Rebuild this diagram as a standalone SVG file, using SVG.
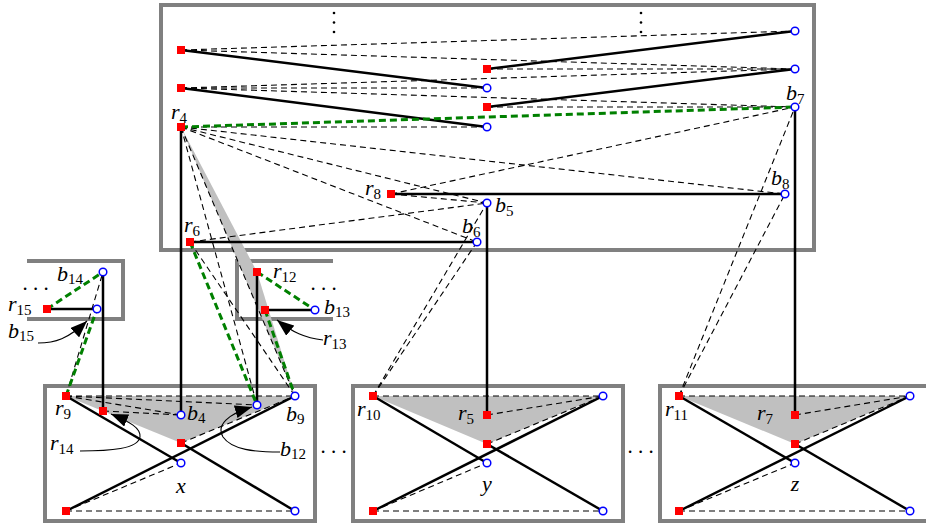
<svg xmlns="http://www.w3.org/2000/svg" width="926" height="525" viewBox="0 0 926 525">
<style>
.box{fill:none;stroke:#808080;stroke-width:4}
.sh{fill:#c0c0c0;stroke:none}
.s{stroke:#000;stroke-width:2.5;fill:none}
.d{stroke:#000;stroke-width:1.1;stroke-dasharray:6 4;fill:none}
.g{stroke:#008000;stroke-width:3;stroke-dasharray:7 4;fill:none}
.ar{stroke:#000;stroke-width:1.1;fill:none;marker-end:url(#ah)}
.rn{fill:#ff0000}
.bn{fill:#fff;stroke:#0000ff;stroke-width:1.5}
.dot{fill:#000}
.lbl{font-family:"Liberation Serif",serif;font-style:italic;font-size:22px;fill:#000}
.sub{font-style:normal;font-size:15px}
.el{font-family:"Liberation Serif",serif;font-size:21px;fill:#000}
</style>
<defs>
<marker id="ah" markerUnits="userSpaceOnUse" markerWidth="18" markerHeight="13" refX="17" refY="6.5" orient="auto">
<path d="M0,0 L17,6.5 L0,13 Z" fill="#000"/>
</marker>
</defs>
<g id="frames">
<rect class="box" x="161" y="5" width="653" height="245"/>
<path class="box" d="M27,261 H123 V319 H27"/>
<path class="box" d="M333,261 H237 V319 H333"/>
<rect class="box" x="45" y="386" width="270" height="135"/>
<rect class="box" x="353" y="386" width="270" height="135"/>
<rect class="box" x="660" y="386" width="275" height="135"/>
</g>
<g id="shading">
<polygon class="sh" points="181,127 257,272 295,396"/>
<polygon class="sh" points="66,396 295,396 181,443"/>
<polygon class="sh" points="373,396 603,396 487,444"/>
<polygon class="sh" points="679,396 910,396 795,444"/>
</g>
<g id="connectors">
<line class="d" x1="181" y1="50" x2="795" y2="31"/>
<line class="d" x1="181" y1="50" x2="795" y2="69"/>
<line class="d" x1="181" y1="88" x2="487" y2="88"/>
<line class="d" x1="181" y1="88" x2="795" y2="69"/>
<line class="d" x1="181" y1="88" x2="795" y2="107"/>
<line class="d" x1="487" y1="69" x2="795" y2="69"/>
<line class="d" x1="487" y1="107" x2="795" y2="107"/>
<line class="d" x1="181" y1="127" x2="487" y2="127"/>
<line class="d" x1="181" y1="127" x2="785" y2="194"/>
<line class="d" x1="181" y1="127" x2="487" y2="203"/>
<line class="d" x1="181" y1="127" x2="477" y2="242"/>
<line class="d" x1="181" y1="127" x2="257" y2="405"/>
<line class="d" x1="181" y1="127" x2="295" y2="396"/>
<line class="d" x1="391" y1="194" x2="795" y2="107"/>
<line class="d" x1="391" y1="194" x2="487" y2="203"/>
<line class="d" x1="190" y1="242" x2="487" y2="203"/>
<line class="d" x1="190" y1="242" x2="295" y2="396"/>
<line class="d" x1="373" y1="396" x2="477" y2="242"/>
<line class="d" x1="373" y1="396" x2="487" y2="203"/>
<line class="d" x1="679" y1="396" x2="785" y2="194"/>
<line class="d" x1="679" y1="396" x2="795" y2="107"/>
<line class="d" x1="66" y1="396" x2="103" y2="272"/>
<line class="d" x1="66" y1="396" x2="295" y2="396"/>
<line class="d" x1="66" y1="396" x2="181" y2="415"/>
<line class="d" x1="66" y1="396" x2="257" y2="405"/>
<line class="d" x1="103" y1="411" x2="181" y2="415"/>
<line class="d" x1="181" y1="443" x2="295" y2="396"/>
<line class="d" x1="66" y1="511" x2="295" y2="511"/>
<line class="d" x1="66" y1="511" x2="181" y2="463"/>
<line class="d" x1="373" y1="396" x2="603" y2="396"/>
<line class="d" x1="487" y1="415" x2="603" y2="396"/>
<line class="d" x1="487" y1="444" x2="603" y2="396"/>
<line class="d" x1="373" y1="511" x2="603" y2="511"/>
<line class="d" x1="373" y1="511" x2="487" y2="463"/>
<line class="d" x1="679" y1="396" x2="910" y2="396"/>
<line class="d" x1="795" y1="415" x2="910" y2="396"/>
<line class="d" x1="795" y1="444" x2="910" y2="396"/>
<line class="d" x1="679" y1="511" x2="910" y2="511"/>
<line class="d" x1="679" y1="511" x2="795" y2="463"/>
<line class="s" x1="181" y1="50" x2="487" y2="88"/>
<line class="s" x1="181" y1="88" x2="487" y2="127"/>
<line class="s" x1="487" y1="69" x2="795" y2="31"/>
<line class="s" x1="487" y1="107" x2="795" y2="69"/>
<line class="s" x1="391" y1="194" x2="785" y2="194"/>
<line class="s" x1="190" y1="242" x2="477" y2="242"/>
<line class="s" x1="181" y1="127" x2="181" y2="415"/>
<line class="s" x1="487" y1="203" x2="487" y2="415"/>
<line class="s" x1="795" y1="107" x2="795" y2="415"/>
<line class="s" x1="47" y1="309" x2="97" y2="309"/>
<line class="s" x1="103" y1="272" x2="103" y2="411"/>
<line class="s" x1="265" y1="310" x2="315" y2="310"/>
<line class="s" x1="257" y1="272" x2="257" y2="405"/>
<line class="s" x1="66" y1="396" x2="181" y2="463"/>
<line class="s" x1="181" y1="443" x2="295" y2="511"/>
<line class="s" x1="66" y1="511" x2="295" y2="396"/>
<line class="s" x1="373" y1="396" x2="487" y2="463"/>
<line class="s" x1="487" y1="444" x2="603" y2="511"/>
<line class="s" x1="373" y1="511" x2="603" y2="396"/>
<line class="s" x1="679" y1="396" x2="795" y2="463"/>
<line class="s" x1="795" y1="444" x2="910" y2="511"/>
<line class="s" x1="679" y1="511" x2="910" y2="396"/>
<line class="g" x1="181" y1="127" x2="795" y2="107"/>
<line class="g" x1="47" y1="309" x2="103" y2="272"/>
<line class="g" x1="66" y1="396" x2="97" y2="309"/>
<line class="g" x1="257" y1="272" x2="315" y2="310"/>
<line class="g" x1="265" y1="310" x2="295" y2="396"/>
<line class="g" x1="190" y1="242" x2="257" y2="405"/>
<path class="ar" d="M38,343 C55,343 68,339 87,321"/>
<path class="ar" d="M323,340 C305,338 292,332 277,320"/>
<path class="ar" d="M80,451 C110,451 138,449 140,437 C141,428 130,422 111,414"/>
<path class="ar" d="M280,452 C255,452 232,450 223,437 C216,425 228,414 252,407"/>
</g>
<g id="dots">
<circle class="dot" cx="334" cy="13" r="1.3"/><circle class="dot" cx="334" cy="22.5" r="1.3"/><circle class="dot" cx="334" cy="32" r="1.3"/>
<circle class="dot" cx="641" cy="13" r="1.3"/><circle class="dot" cx="641" cy="22.5" r="1.3"/><circle class="dot" cx="641" cy="32" r="1.3"/>
<text class="el" x="22.4" y="290.3">. . .</text>
<text class="el" x="310.4" y="290.3">. . .</text>
<text class="el" x="320.4" y="453">. . .</text>
<text class="el" x="627.4" y="453">. . .</text>
</g>
<g id="nA1"><rect class="rn" x="177" y="46" width="8" height="8"/></g>
<g id="nA2"><rect class="rn" x="177" y="84" width="8" height="8"/></g>
<g id="r4"><rect class="rn" x="177" y="123" width="8" height="8"/><text class="lbl" x="171" y="119">r<tspan class="sub" dy="4">4</tspan></text></g>
<g id="nB1"><circle class="bn" cx="487" cy="88" r="3.8"/></g>
<g id="nB2"><circle class="bn" cx="487" cy="127" r="3.8"/></g>
<g id="nC1"><rect class="rn" x="483" y="65" width="8" height="8"/></g>
<g id="nC2"><rect class="rn" x="483" y="103" width="8" height="8"/></g>
<g id="nD1"><circle class="bn" cx="795" cy="31" r="3.8"/></g>
<g id="nD2"><circle class="bn" cx="795" cy="69" r="3.8"/></g>
<g id="b7"><circle class="bn" cx="795" cy="107" r="3.8"/><text class="lbl" x="786" y="100">b<tspan class="sub" dy="4">7</tspan></text></g>
<g id="r8"><rect class="rn" x="387" y="190" width="8" height="8"/><text class="lbl" x="365" y="195">r<tspan class="sub" dy="4">8</tspan></text></g>
<g id="b5"><circle class="bn" cx="487" cy="203" r="3.8"/><text class="lbl" x="495" y="212">b<tspan class="sub" dy="4">5</tspan></text></g>
<g id="b8"><circle class="bn" cx="785" cy="194" r="3.8"/><text class="lbl" x="771" y="185">b<tspan class="sub" dy="4">8</tspan></text></g>
<g id="r6"><rect class="rn" x="186" y="238" width="8" height="8"/><text class="lbl" x="184" y="232">r<tspan class="sub" dy="4">6</tspan></text></g>
<g id="b6"><circle class="bn" cx="477" cy="242" r="3.8"/><text class="lbl" x="462" y="233">b<tspan class="sub" dy="4">6</tspan></text></g>
<g id="b14"><circle class="bn" cx="103" cy="272" r="3.8"/><text class="lbl" x="57" y="281">b<tspan class="sub" dy="3">14</tspan></text></g>
<g id="r15"><rect class="rn" x="43" y="305" width="8" height="8"/><text class="lbl" x="8" y="311">r<tspan class="sub" dy="4">15</tspan></text></g>
<g id="b15"><circle class="bn" cx="97" cy="309" r="3.8"/><text class="lbl" x="8" y="338">b<tspan class="sub" dy="3">15</tspan></text></g>
<g id="r12"><rect class="rn" x="253" y="268" width="8" height="8"/><text class="lbl" x="273" y="278">r<tspan class="sub" dy="4">12</tspan></text></g>
<g id="r13"><rect class="rn" x="261" y="306" width="8" height="8"/><text class="lbl" x="323" y="345">r<tspan class="sub" dy="4">13</tspan></text></g>
<g id="b13"><circle class="bn" cx="315" cy="310" r="3.8"/><text class="lbl" x="324" y="314">b<tspan class="sub" dy="3">13</tspan></text></g>
<g id="r9"><rect class="rn" x="62" y="392" width="8" height="8"/><text class="lbl" x="55" y="415">r<tspan class="sub" dy="4">9</tspan></text></g>
<g id="r14"><rect class="rn" x="99" y="407" width="8" height="8"/><text class="lbl" x="50" y="450">r<tspan class="sub" dy="4">14</tspan></text></g>
<g id="b4"><circle class="bn" cx="181" cy="415" r="3.8"/><text class="lbl" x="187" y="420">b<tspan class="sub" dy="3">4</tspan></text></g>
<g id="b12"><circle class="bn" cx="257" cy="405" r="3.8"/><text class="lbl" x="280" y="456">b<tspan class="sub" dy="3">12</tspan></text></g>
<g id="b9"><circle class="bn" cx="295" cy="396" r="3.8"/><text class="lbl" x="286" y="421">b<tspan class="sub" dy="3">9</tspan></text></g>
<g id="xc"><rect class="rn" x="177" y="439" width="8" height="8"/></g>
<g id="xb"><circle class="bn" cx="181" cy="463" r="3.8"/></g>
<g id="xbl"><rect class="rn" x="62" y="507" width="8" height="8"/></g>
<g id="xbr"><circle class="bn" cx="295" cy="511" r="3.8"/></g>
<g id="xlabel"><text class="lbl" x="181" y="493" text-anchor="middle">x</text></g>
<g id="r10"><rect class="rn" x="369" y="392" width="8" height="8"/><text class="lbl" x="357" y="416">r<tspan class="sub" dy="4">10</tspan></text></g>
<g id="r5"><rect class="rn" x="483" y="411" width="8" height="8"/><text class="lbl" x="458" y="420">r<tspan class="sub" dy="4">5</tspan></text></g>
<g id="ytr"><circle class="bn" cx="603" cy="396" r="3.8"/></g>
<g id="yc"><rect class="rn" x="483" y="440" width="8" height="8"/></g>
<g id="yb"><circle class="bn" cx="487" cy="463" r="3.8"/></g>
<g id="ybl"><rect class="rn" x="369" y="507" width="8" height="8"/></g>
<g id="ybr"><circle class="bn" cx="603" cy="511" r="3.8"/></g>
<g id="ylabel"><text class="lbl" x="487" y="491" text-anchor="middle">y</text></g>
<g id="r11"><rect class="rn" x="675" y="392" width="8" height="8"/><text class="lbl" x="665" y="416">r<tspan class="sub" dy="4">11</tspan></text></g>
<g id="r7"><rect class="rn" x="791" y="411" width="8" height="8"/><text class="lbl" x="757" y="420">r<tspan class="sub" dy="4">7</tspan></text></g>
<g id="ztr"><circle class="bn" cx="910" cy="396" r="3.8"/></g>
<g id="zc"><rect class="rn" x="791" y="440" width="8" height="8"/></g>
<g id="zb"><circle class="bn" cx="795" cy="463" r="3.8"/></g>
<g id="zbl"><rect class="rn" x="675" y="507" width="8" height="8"/></g>
<g id="zbr"><circle class="bn" cx="910" cy="511" r="3.8"/></g>
<g id="zlabel"><text class="lbl" x="795" y="491" text-anchor="middle">z</text></g>
</svg>
